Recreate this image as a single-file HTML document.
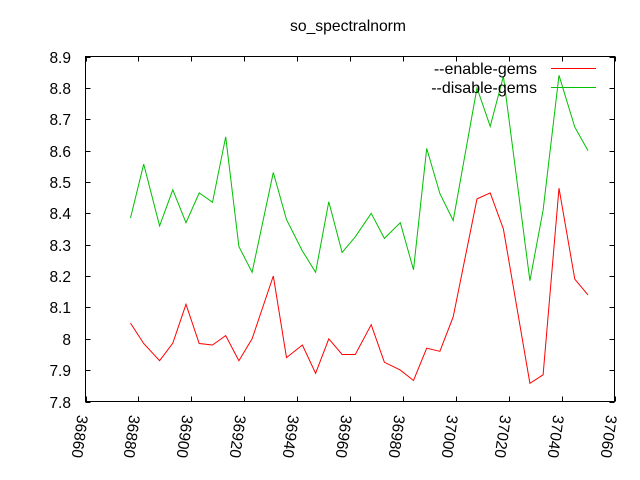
<!DOCTYPE html>
<html><head><meta charset="utf-8"><style>
html,body{margin:0;padding:0;background:#fff;}
svg{display:block;font-family:"Liberation Sans",sans-serif;}
</style></head><body>
<svg id="chart" width="640" height="480" viewBox="0 0 640 480">
<rect width="640" height="480" fill="#fff"/>
<text x="348" y="31" font-size="15.7" text-anchor="middle">so_spectralnorm</text>
<g id="axes"></g>
<g id="series"></g>
<g>
<text x="537" y="74" font-size="16" text-anchor="end">--enable-gems</text>
<line x1="551" y1="68.5" x2="596" y2="68.5" stroke="#ff0000"/>
<text x="537" y="93" font-size="16" text-anchor="end">--disable-gems</text>
<line x1="551" y1="87.5" x2="596" y2="87.5" stroke="#00c000"/>
</g>
</svg>
<script>
const xValues=[36877,36882,36888,36893,36898,36903,36908,36913,36918,36923,36931,36936,36942,36947,36952,36957,36962,36968,36973,36979,36984,36989,36994,36999,37008,37013,37018,37028,37033,37039,37045,37050];
const enableGems=[8.05,7.985,7.93,7.986,8.11,7.985,7.98,8.01,7.93,8.0,8.2,7.94,7.98,7.89,8.0,7.95,7.95,8.045,7.925,7.9,7.867,7.97,7.96,8.07,8.446,8.465,8.35,7.858,7.885,8.48,8.19,8.14];
const disableGems=[8.385,8.557,8.36,8.475,8.37,8.465,8.435,8.644,8.294,8.212,8.53,8.38,8.28,8.212,8.437,8.275,8.325,8.4,8.32,8.37,8.22,8.607,8.463,8.377,8.8,8.677,8.837,8.185,8.41,8.84,8.675,8.6];
const xTicks=[36860,36880,36900,36920,36940,36960,36980,37000,37020,37040,37060];
const yTicks=[7.8,7.9,8,8.1,8.2,8.3,8.4,8.5,8.6,8.7,8.8,8.9];
const yTickLabels=["7.8","7.9","8","8.1","8.2","8.3","8.4","8.5","8.6","8.7","8.8","8.9"];
const L=85.5,R=614.5,T=56.5,B=401.5;
const X0=36860,X1=37060,Y0=7.8,Y1=8.9;
function sx(v){return L+(v-X0)/(X1-X0)*(R-L);}
function sy(v){return B-(v-Y0)/(Y1-Y0)*(B-T);}
const NS="http://www.w3.org/2000/svg";
const axes=document.getElementById('axes');
function mk(tag,attrs,parent){const e=document.createElementNS(NS,tag);for(const k in attrs)e.setAttribute(k,attrs[k]);parent.appendChild(e);return e;}
const frame=mk('rect',{x:L,y:T,width:R-L,height:B-T,fill:'none',stroke:'#000'},axes);


yTicks.forEach((v,i)=>{
  const y=Math.round(sy(v))+0.5;
  const t1=mk('line',{x1:L,y1:y,x2:L+5,y2:y,stroke:'#000'},axes);
  
  
  const t2=mk('line',{x1:R,y1:y,x2:R-5,y2:y,stroke:'#000'},axes);
  
  
  const tx=mk('text',{x:71,y:y+5.5,'font-size':15.5,'text-anchor':'end'},axes);
  tx.textContent=yTickLabels[i];
  
  
});
xTicks.forEach(v=>{
  const x=Math.round(sx(v))+0.5;
  const t1=mk('line',{x1:x,y1:B,x2:x,y2:B-5,stroke:'#000'},axes);
  
  
  const t2=mk('line',{x1:x,y1:T,x2:x,y2:T+5,stroke:'#000'},axes);
  
  
  const tx=mk('text',{x:0,y:0,'font-size':15.5,transform:'translate('+(x-9)+','+(B+13)+') rotate(98)'},axes);
  tx.textContent=String(v);
  
  
});
const series=document.getElementById('series');
function line(vals,color,name){
  const pts=vals.map((v,i)=>sx(xValues[i]).toFixed(1)+','+sy(v).toFixed(1)).join(' ');
  const p=mk('polyline',{points:pts,fill:'none',stroke:color,'stroke-width':1},series);
  
  
}
line(enableGems,'#ff0000','series-enable-gems');
line(disableGems,'#00c000','series-disable-gems');
</script>
</body></html>
